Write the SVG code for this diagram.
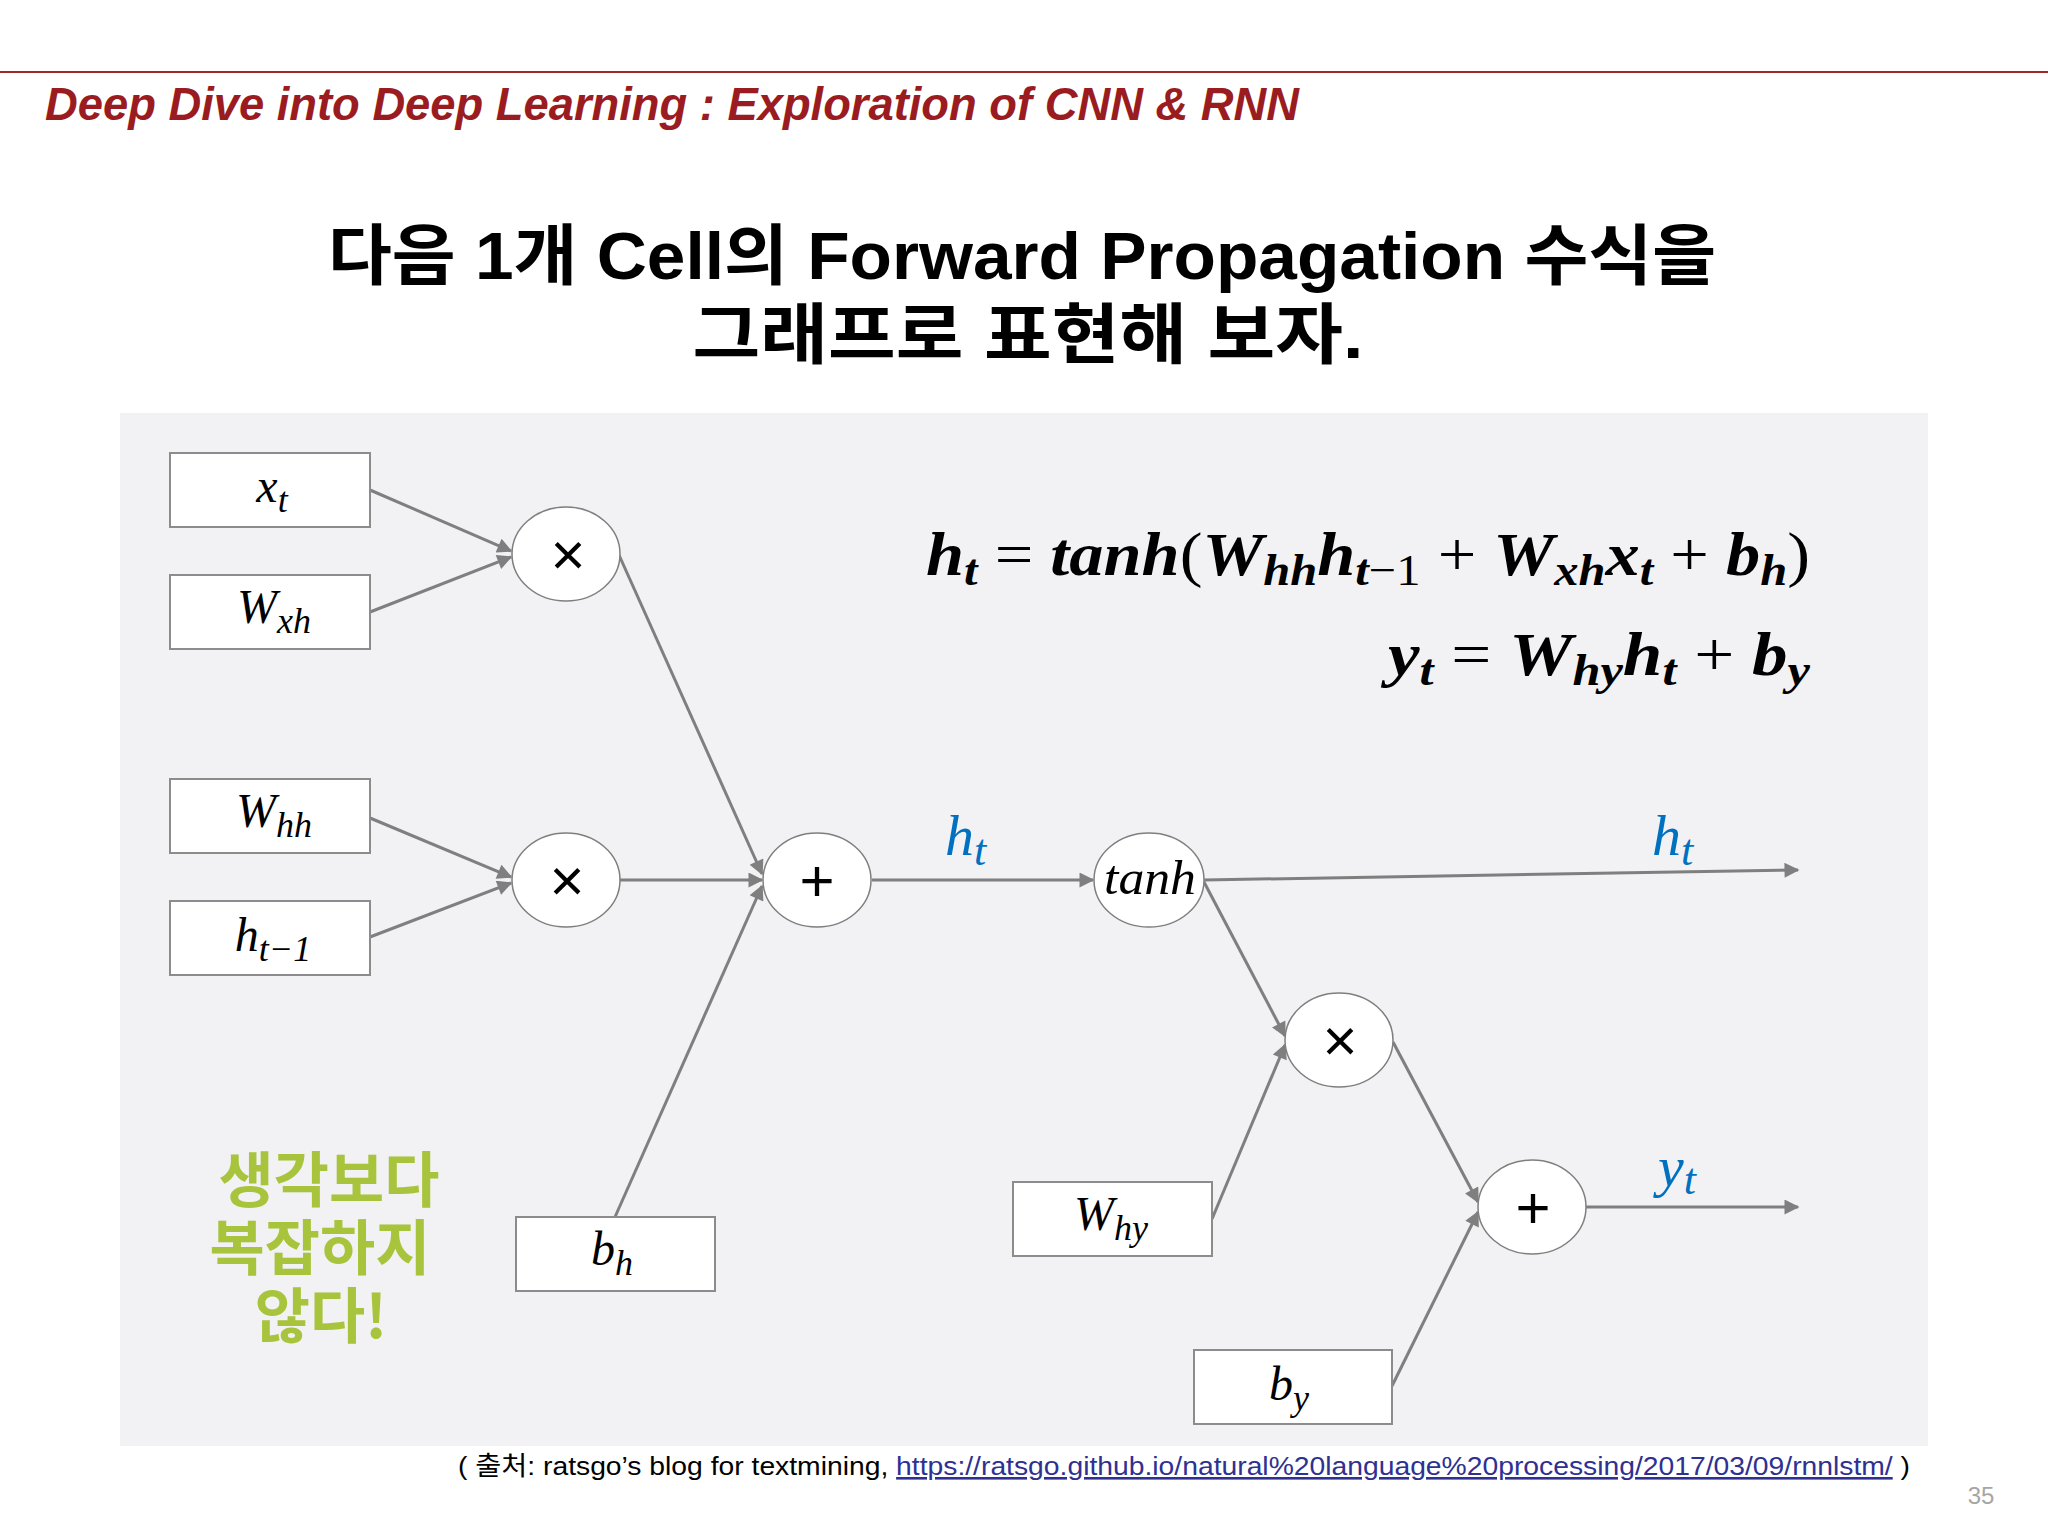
<svg xmlns="http://www.w3.org/2000/svg" width="2048" height="1536" viewBox="0 0 2048 1536">
<style>
.box{fill:#ffffff;stroke:#8c8c8c;stroke-width:2}
.node{fill:#ffffff;stroke:#7f7f7f;stroke-width:1.5}
.edge{stroke:#7f7f7f;stroke-width:3;fill:none;marker-end:url(#arr)}
.lbl{font-family:"Liberation Serif",serif;font-style:italic;font-size:48px;fill:#000;text-anchor:middle}
.sub{font-size:36px}
.op{font-family:"Liberation Sans",sans-serif;font-size:60px;fill:#000;text-anchor:middle}
.blue{font-family:"Liberation Serif",serif;font-style:italic;font-size:58px;fill:#0070c0}
.fx{font-family:"Liberation Serif",serif;font-style:italic;font-weight:bold;font-size:62px;fill:#000;text-anchor:end}
.up{font-style:normal;font-weight:normal}
</style>
<defs>
<marker id="arr" viewBox="0 0 10 10" refX="9" refY="5" markerWidth="6" markerHeight="5" orient="auto" markerUnits="strokeWidth">
<path d="M0,0 L10,5 L0,10 z" fill="#7f7f7f"/>
</marker>
</defs>
<rect x="0" y="0" width="2048" height="1536" fill="#ffffff"/>
<line x1="0" y1="72" x2="2048" y2="72" stroke="#a0282a" stroke-width="2"/>
<text x="45" y="120" font-family="Liberation Sans, sans-serif" font-weight="bold" font-style="italic" font-size="46" fill="#9b1c20" textLength="1254" lengthAdjust="spacingAndGlyphs">Deep Dive into Deep Learning : Exploration of CNN &amp; RNN</text>
<text x="1022" y="279" font-family="Liberation Sans, 'Noto Sans CJK KR', sans-serif" font-weight="bold" font-size="66" fill="#000" text-anchor="middle" textLength="1388" lengthAdjust="spacingAndGlyphs">다음 1개 Cell의 Forward Propagation 수식을</text>
<text x="1028" y="358" font-family="Liberation Sans, 'Noto Sans CJK KR', sans-serif" font-weight="bold" font-size="66" fill="#000" text-anchor="middle" textLength="671" lengthAdjust="spacingAndGlyphs">그래프로 표현해 보자.</text>
<rect x="120" y="413" width="1808" height="1033" fill="#f2f1f4"/>

<g id="connectors">
<line class="edge" x1="370" y1="490" x2="511" y2="551"/>
<line class="edge" x1="370" y1="612" x2="511" y2="557"/>
<line class="edge" x1="370" y1="818" x2="511" y2="877"/>
<line class="edge" x1="370" y1="937" x2="511" y2="883"/>
<line class="edge" x1="619" y1="555" x2="762" y2="874"/>
<line class="edge" x1="620" y1="880" x2="762" y2="880"/>
<line class="edge" x1="615" y1="1217" x2="762" y2="886"/>
<line class="edge" x1="872" y1="880" x2="1093" y2="880"/>
<line class="edge" x1="1204" y1="880" x2="1798" y2="870"/>
<line class="edge" x1="1204" y1="882" x2="1285" y2="1036"/>
<line class="edge" x1="1212" y1="1219" x2="1285" y2="1045"/>
<line class="edge" x1="1393" y1="1042" x2="1478" y2="1202"/>
<line class="edge" x1="1392" y1="1386" x2="1478" y2="1212"/>
<line class="edge" x1="1586" y1="1207" x2="1798" y2="1207"/>
</g>

<g id="n_xt"><rect class="box" x="170" y="453" width="200" height="74"/><text class="lbl" x="272" y="502">x<tspan class="sub" dy="10">t</tspan></text></g>
<g id="n_wxh"><rect class="box" x="170" y="575" width="200" height="74"/><text class="lbl" x="274" y="623">W<tspan class="sub" dy="10">xh</tspan></text></g>
<g id="n_whh"><rect class="box" x="170" y="779" width="200" height="74"/><text class="lbl" x="274" y="827">W<tspan class="sub" dy="10">hh</tspan></text></g>
<g id="n_ht1"><rect class="box" x="170" y="901" width="200" height="74"/><text class="lbl" x="273" y="951">h<tspan class="sub" dy="10">t−1</tspan></text></g>
<g id="n_bh"><rect class="box" x="516" y="1217" width="199" height="74"/><text class="lbl" x="612" y="1265">b<tspan class="sub" dy="10">h</tspan></text></g>
<g id="n_why"><rect class="box" x="1013" y="1182" width="199" height="74"/><text class="lbl" x="1111" y="1230">W<tspan class="sub" dy="10">hy</tspan></text></g>
<g id="n_by"><rect class="box" x="1194" y="1350" width="198" height="74"/><text class="lbl" x="1289" y="1400">b<tspan class="sub" dy="10">y</tspan></text></g>

<g id="n_mul1"><ellipse class="node" cx="566" cy="554" rx="54" ry="47"/><text class="op" x="568" y="575">×</text></g>
<g id="n_mul2"><ellipse class="node" cx="566" cy="880" rx="54" ry="47"/><text class="op" x="567" y="901">×</text></g>
<g id="n_add1"><ellipse class="node" cx="817" cy="880" rx="54" ry="47"/><text class="op" x="817" y="901">+</text></g>
<g id="n_tanh"><ellipse class="node" cx="1149" cy="880" rx="55" ry="47"/><text class="lbl" x="1150" y="894" font-size="48" textLength="92" lengthAdjust="spacingAndGlyphs">tanh</text></g>
<g id="n_mul3"><ellipse class="node" cx="1339" cy="1040" rx="54" ry="47"/><text class="op" x="1340" y="1061">×</text></g>
<g id="n_add2"><ellipse class="node" cx="1532" cy="1207" rx="54" ry="47"/><text class="op" x="1533" y="1228">+</text></g>

<g id="labels">
<text class="blue" x="945" y="855">h<tspan font-size="44" dy="10">t</tspan></text>
<text class="blue" x="1652" y="855">h<tspan font-size="44" dy="10">t</tspan></text>
<text class="blue" x="1658" y="1186">y<tspan font-size="44" dy="8">t</tspan></text>
</g>

<g id="formula">
<text class="fx" x="1810" y="575" textLength="884" lengthAdjust="spacingAndGlyphs">h<tspan font-size="44" dy="10">t</tspan><tspan class="up" dy="-10"> = </tspan>tanh<tspan class="up">(</tspan>W<tspan font-size="44" dy="10">hh</tspan><tspan dy="-10">h</tspan><tspan font-size="44" dy="10">t<tspan class="up">−1</tspan></tspan><tspan class="up" dy="-10"> + </tspan>W<tspan font-size="44" dy="10">xh</tspan><tspan dy="-10">x</tspan><tspan font-size="44" dy="10">t</tspan><tspan class="up" dy="-10"> + </tspan>b<tspan font-size="44" dy="10">h</tspan><tspan class="up" dy="-10">)</tspan></text>
<text class="fx" x="1810" y="675" textLength="422" lengthAdjust="spacingAndGlyphs">y<tspan font-size="44" dy="10">t</tspan><tspan class="up" dy="-10"> = </tspan>W<tspan font-size="44" dy="10">hy</tspan><tspan dy="-10">h</tspan><tspan font-size="44" dy="10">t</tspan><tspan class="up" dy="-10"> + </tspan>b<tspan font-size="44" dy="10">y</tspan></text>
</g>

<g id="note" font-family="'Noto Sans CJK KR', sans-serif" font-weight="bold" font-size="60" fill="#a8c43c" text-anchor="middle">
<text x="329" y="1202">생각보다</text>
<text x="320" y="1270">복잡하지</text>
<text x="321" y="1338">않다!</text>
</g>

<text x="458" y="1475" font-family="Liberation Sans, 'Noto Sans CJK KR', sans-serif" font-size="26" fill="#000" textLength="1452" lengthAdjust="spacingAndGlyphs">( 출처: ratsgo’s blog for textmining, <tspan fill="#2e3192" text-decoration="underline">https://ratsgo.github.io/natural%20language%20processing/2017/03/09/rnnlstm/</tspan> )</text>
<text x="1981" y="1504" font-family="Liberation Sans, sans-serif" font-size="24" fill="#a6a6a6" text-anchor="middle">35</text>
</svg>
